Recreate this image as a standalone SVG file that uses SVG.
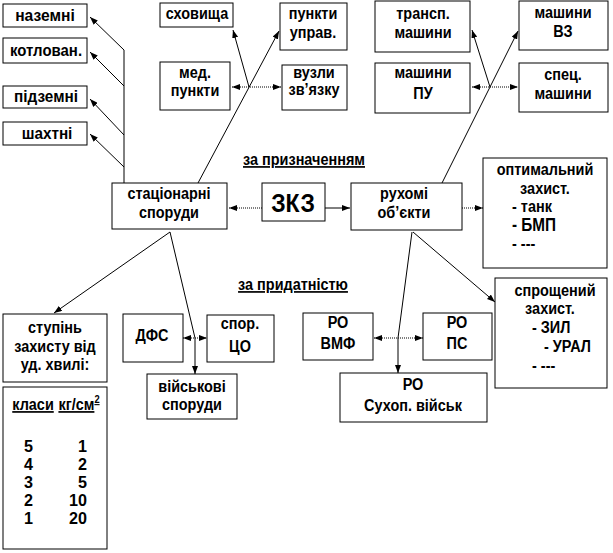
<svg xmlns="http://www.w3.org/2000/svg" width="613" height="553" viewBox="0 0 613 553">
<style>
.b{fill:#fff;stroke:#000;stroke-width:1}
.t{font-family:"Liberation Sans",Arial,sans-serif;font-weight:bold;font-size:17px;text-anchor:middle;fill:#000}
.l{text-anchor:start}
.r{text-anchor:end}
.c{fill:none;stroke:#000;stroke-width:1}
.d{stroke-dasharray:1 1}
.u{text-decoration:underline}
</style>
<defs>
<marker id="a" viewBox="0 0 8 6" refX="8" refY="3" markerWidth="8" markerHeight="6" markerUnits="userSpaceOnUse" orient="auto-start-reverse">
<path d="M0,0 L8,3 L0,6 z" fill="#000"/>
</marker>
</defs>
<rect width="613" height="553" fill="#fff"/>

<g id="connectors">
<path class="c" d="M124,50 V183"/>
<path class="c" d="M124,50 L90,17" marker-end="url(#a)"/>
<path class="c" d="M124,86 L90,52" marker-end="url(#a)"/>
<path class="c" d="M124,135 L90,99" marker-end="url(#a)"/>
<path class="c" d="M124,167 L90,134" marker-end="url(#a)"/>
<path class="c" d="M198,183 L279,31" marker-end="url(#a)"/>
<path class="c" d="M249,87 L233,30" marker-end="url(#a)"/>
<path class="c d" d="M232,87 H281" marker-start="url(#a)" marker-end="url(#a)"/>
<path class="c" d="M442,183 L518,31" marker-end="url(#a)"/>
<path class="c" d="M490,87 L472,30" marker-end="url(#a)"/>
<path class="c d" d="M472,87 H518" marker-start="url(#a)" marker-end="url(#a)"/>
<path class="c d" d="M262,208 H229" marker-end="url(#a)"/>
<path class="c" d="M325,208 H350" marker-end="url(#a)"/>
<path class="c d" d="M462,208 H483" marker-end="url(#a)"/>
<path class="c" d="M170,232 L54,313" marker-end="url(#a)"/>
<path class="c" d="M170,232 L195,338"/>
<path class="c d" d="M183,338 H207" marker-start="url(#a)" marker-end="url(#a)"/>
<path class="c" d="M195,338 V374" marker-end="url(#a)"/>
<path class="c" d="M413,232 L495,302" marker-end="url(#a)"/>
<path class="c" d="M412,232 L398,338"/>
<path class="c d" d="M374,338 H423" marker-start="url(#a)" marker-end="url(#a)"/>
<path class="c" d="M398,338 V373" marker-end="url(#a)"/>
</g>

<g id="n-nazemni"><rect class="b" x="3" y="4" width="84" height="23"/><text class="t" transform="translate(45,21) scale(0.92,1)">наземні</text></g>
<g id="n-kotlovan"><rect class="b" x="3" y="38" width="84" height="25"/><text class="t" transform="translate(46,56) scale(0.88,1)">котлован.</text></g>
<g id="n-pidzemni"><rect class="b" x="3" y="86" width="84" height="22"/><text class="t" transform="translate(46,102) scale(0.9,1)">підземні</text></g>
<g id="n-shakhtni"><rect class="b" x="3" y="122" width="84" height="23"/><text class="t" transform="translate(47,139) scale(0.9,1)">шахтні</text></g>

<g id="n-skhovyshcha"><rect class="b" x="160" y="3" width="73" height="24"/><text class="t" transform="translate(197,19) scale(0.85,1)">сховища</text></g>
<g id="n-punkty-uprav"><rect class="b" x="280" y="3" width="67" height="47"/><text class="t" transform="translate(313,19) scale(0.85,1)">пункти</text><text class="t" transform="translate(313,38) scale(0.85,1)">управ.</text></g>
<g id="n-med"><rect class="b" x="160" y="62" width="70" height="48"/><text class="t" transform="translate(195,78) scale(0.85,1)">мед.</text><text class="t" transform="translate(195,96) scale(0.85,1)">пункти</text></g>
<g id="n-vuzly"><rect class="b" x="282" y="65" width="65" height="45"/><text class="t" transform="translate(314,78) scale(0.85,1)">вузли</text><text class="t" transform="translate(314,95) scale(0.85,1)">зв’язку</text></g>

<g id="n-transp"><rect class="b" x="375" y="1" width="95" height="51"/><text class="t" transform="translate(423,19) scale(0.85,1)">трансп.</text><text class="t" transform="translate(423,38) scale(0.85,1)">машини</text></g>
<g id="n-vz"><rect class="b" x="519" y="1" width="89" height="49"/><text class="t" transform="translate(563,18) scale(0.85,1)">машини</text><text class="t" transform="translate(563,37) scale(0.85,1)">ВЗ</text></g>
<g id="n-pu"><rect class="b" x="375" y="63" width="95" height="50"/><text class="t" transform="translate(423,78) scale(0.85,1)">машини</text><text class="t" transform="translate(423,99) scale(0.85,1)">ПУ</text></g>
<g id="n-spets"><rect class="b" x="519" y="63" width="89" height="49"/><text class="t" transform="translate(563,80) scale(0.85,1)">спец.</text><text class="t" transform="translate(563,99) scale(0.85,1)">машини</text></g>

<text class="t u" transform="translate(304,165) scale(0.85,1)">за призначенням</text>

<g id="n-statsionarni"><rect class="b" x="112" y="183" width="115" height="46"/><text class="t" transform="translate(169,199) scale(0.85,1)">стаціонарні</text><text class="t" transform="translate(169,218) scale(0.85,1)">споруди</text></g>
<g id="n-zkz"><rect class="b" x="262" y="183" width="63" height="38"/><text class="t" style="font-size:25px" transform="translate(293,212) scale(0.92,1)">ЗКЗ</text></g>
<g id="n-rukhomi"><rect class="b" x="351" y="183" width="111" height="47"/><text class="t" transform="translate(404,199) scale(0.85,1)">рухомі</text><text class="t" transform="translate(404,218) scale(0.85,1)">об’єкти</text></g>

<g id="n-optym"><rect class="b" x="483" y="158" width="124" height="110"/>
<text class="t" transform="translate(545,175) scale(0.85,1)">оптимальний</text>
<text class="t" transform="translate(545,194) scale(0.85,1)">захист.</text>
<text class="t l" transform="translate(512,212) scale(0.85,1)">- танк</text>
<text class="t l" style="font-size:18px" transform="translate(512,231) scale(0.85,1)">- БМП</text>
<text class="t l" transform="translate(512,249) scale(0.85,1)">- ---</text></g>

<text class="t u" transform="translate(293,290) scale(0.85,1)">за придатністю</text>

<g id="n-sproshch"><rect class="b" x="495" y="278" width="112" height="110"/>
<text class="t" transform="translate(555,296) scale(0.85,1)">спрощений</text>
<text class="t" transform="translate(550,314) scale(0.85,1)">захист.</text>
<text class="t l" transform="translate(532,333) scale(0.85,1)">- ЗИЛ</text>
<text class="t l" transform="translate(544,352) scale(0.85,1)">- УРАЛ</text>
<text class="t l" transform="translate(532,371) scale(0.85,1)">- ---</text></g>

<g id="n-stupin"><rect class="b" x="3" y="314" width="104" height="68"/>
<text class="t" transform="translate(55,333) scale(0.85,1)">ступінь</text>
<text class="t" transform="translate(55,352) scale(0.85,1)">захисту  від</text>
<text class="t" transform="translate(55,370) scale(0.85,1)">уд.  хвилі:</text></g>

<g id="n-table"><rect class="b" x="3" y="387" width="104" height="162"/>
<text class="t u" transform="translate(33,410) scale(0.85,1)">класи</text>
<text class="t u" transform="translate(79,410) scale(0.85,1)">кг/см<tspan style="font-size:11px" dy="-7">2</tspan></text>
<text class="t l" transform="translate(24,452) scale(0.95,1)">5</text><text class="t r" transform="translate(87,452) scale(0.95,1)">1</text>
<text class="t l" transform="translate(24,470) scale(0.95,1)">4</text><text class="t r" transform="translate(87,470) scale(0.95,1)">2</text>
<text class="t l" transform="translate(24,488) scale(0.95,1)">3</text><text class="t r" transform="translate(87,488) scale(0.95,1)">5</text>
<text class="t l" transform="translate(24,506) scale(0.95,1)">2</text><text class="t r" transform="translate(87,506) scale(0.95,1)">10</text>
<text class="t l" transform="translate(24,524) scale(0.95,1)">1</text><text class="t r" transform="translate(87,524) scale(0.95,1)">20</text></g>

<g id="n-dfs"><rect class="b" x="123" y="314" width="60" height="48"/><text class="t" transform="translate(152,341) scale(0.85,1)">ДФС</text></g>
<g id="n-spor-tso"><rect class="b" x="207" y="315" width="67" height="47"/><text class="t" transform="translate(240,329) scale(0.85,1)">спор.</text><text class="t" transform="translate(240,352) scale(0.85,1)">ЦО</text></g>
<g id="n-viiskovi"><rect class="b" x="147" y="374" width="90" height="45"/><text class="t" transform="translate(192,392) scale(0.85,1)">військові</text><text class="t" transform="translate(192,410) scale(0.85,1)">споруди</text></g>

<g id="n-ro-vmf"><rect class="b" x="303" y="313" width="70" height="47"/><text class="t" transform="translate(338,328) scale(0.85,1)">РО</text><text class="t" transform="translate(338,349) scale(0.85,1)">ВМФ</text></g>
<g id="n-ro-ps"><rect class="b" x="423" y="313" width="69" height="47"/><text class="t" transform="translate(457,328) scale(0.85,1)">РО</text><text class="t" transform="translate(457,349) scale(0.85,1)">ПС</text></g>
<g id="n-ro-sukhop"><rect class="b" x="340" y="373" width="147" height="49"/><text class="t" transform="translate(413,390) scale(0.85,1)">РО</text><text class="t" transform="translate(413,411) scale(0.85,1)">Сухоп.  військ</text></g>
</svg>
